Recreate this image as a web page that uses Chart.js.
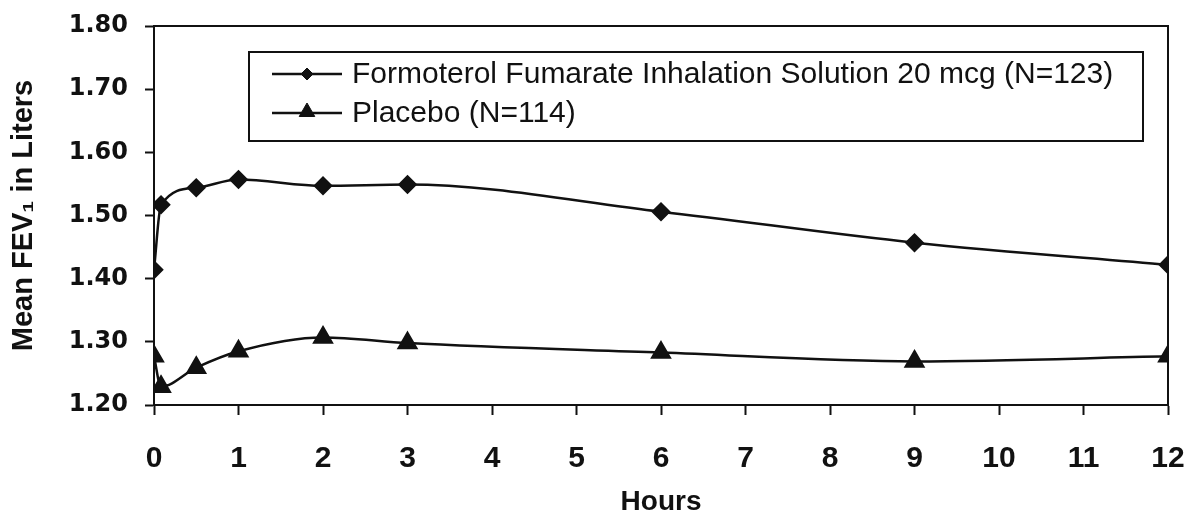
<!DOCTYPE html>
<html>
<head>
<meta charset="utf-8">
<title>Mean FEV1 over 12 hours</title>
<script src="https://cdn.jsdelivr.net/npm/chart.js@4/dist/chart.umd.min.js"></script>
<style>
    html, body { margin: 0; padding: 0; background: #fff; }
    #wrap { width: 1185px; height: 514px; position: relative; }
</style>
</head>
<body>
<div id="wrap"><canvas id="fevChart" width="1185" height="514"></canvas></div>
<script>
// Dados
const hours = [0, 0.083, 0.5, 1, 2, 3, 6, 9, 12];
const formoterol = [1.414, 1.517, 1.544, 1.557, 1.547, 1.549, 1.506, 1.457, 1.422];
const placebo = [1.277, 1.229, 1.259, 1.285, 1.307, 1.298, 1.283, 1.269, 1.277];
const seriesLabels = ['Formoterol Fumarate Inhalation Solution 20 mcg (N=123)', 'Placebo (N=114)'];
const yTicks = [1.20, 1.30, 1.40, 1.50, 1.60, 1.70, 1.80];
const xTicks = [0, 1, 2, 3, 4, 5, 6, 7, 8, 9, 10, 11, 12];

document.addEventListener('DOMContentLoaded', function() {
    const canvas = document.getElementById('fevChart');
    const ink = '#111';

    function toPoints(values) {
        return hours.map((h, i) => ({ x: h, y: values[i] }));
    }

    // Moldura superior e direita + legenda dentro da área do gráfico
    const framePlugin = {
        id: 'frameAndLegend',
        afterDraw(chart) {
            const ctx = chart.ctx;
            const area = chart.chartArea;
            ctx.save();
            ctx.strokeStyle = ink;
            ctx.lineWidth = 2;
            ctx.beginPath();
            ctx.moveTo(area.left, area.top);
            ctx.lineTo(area.right, area.top);
            ctx.lineTo(area.right, area.bottom);
            ctx.stroke();

            // caixa da legenda
            const box = { left: 249, top: 52, right: 1143, bottom: 141 };
            ctx.fillStyle = '#fff';
            ctx.fillRect(box.left, box.top, box.right - box.left, box.bottom - box.top);
            ctx.strokeRect(box.left, box.top, box.right - box.left, box.bottom - box.top);

            const rows = [74, 113];
            chart.data.datasets.forEach((ds, i) => {
                const y = rows[i];
                ctx.strokeStyle = ink;
                ctx.fillStyle = ink;
                ctx.lineWidth = 2.5;
                ctx.beginPath();
                ctx.moveTo(272, y);
                ctx.lineTo(342, y);
                ctx.stroke();
                ctx.lineWidth = 1;
                Chart.helpers.drawPoint(ctx, {
                    pointStyle: ds.pointStyle,
                    radius: i === 0 ? 6 : 9,
                    borderWidth: 1
                }, 307, i === 0 ? y : y - 1);
                ctx.font = '30px "Liberation Sans", Arial, sans-serif';
                ctx.textAlign = 'left';
                ctx.textBaseline = 'middle';
                ctx.fillText(ds.label, 352, y + 1);
            });
            ctx.restore();
        }
    };

    new Chart(canvas.getContext('2d'), {
        type: 'line',
        data: {
            datasets: [{
                label: seriesLabels[0],
                data: toPoints(formoterol),
                borderColor: ink,
                backgroundColor: ink,
                borderWidth: 2.5,
                pointStyle: 'rectRot',
                pointRadius: 8,
                pointHoverRadius: 8,
                cubicInterpolationMode: 'monotone'
            }, {
                label: seriesLabels[1],
                data: toPoints(placebo),
                borderColor: ink,
                backgroundColor: ink,
                borderWidth: 2.5,
                pointStyle: 'triangle',
                pointRadius: 10,
                pointHoverRadius: 10,
                cubicInterpolationMode: 'monotone'
            }]
        },
        options: {
            responsive: false,
            animation: false,
            devicePixelRatio: 1,
            layout: { padding: { top: 26, right: 17, left: 0, bottom: 0 } },
            plugins: {
                legend: { display: false },
                tooltip: { enabled: false }
            },
            scales: {
                x: {
                    type: 'linear',
                    min: 0,
                    max: 12,
                    afterBuildTicks(scale) {
                        scale.ticks = xTicks.map(v => ({ value: v }));
                    },
                    afterFit(scale) {
                        scale.height = 109;
                        scale.paddingRight = 0;
                    },
                    grid: { drawOnChartArea: false, tickLength: 10, tickWidth: 2, tickColor: ink },
                    border: { color: ink, width: 2 },
                    ticks: {
                        color: ink,
                        padding: 26,
                        maxRotation: 0,
                        font: { family: '"Liberation Sans", Arial, sans-serif', size: 30, weight: 'bold' }
                    },
                    title: {
                        display: true,
                        text: 'Hours',
                        color: ink,
                        padding: { top: 0, bottom: -5 },
                        font: { family: '"Liberation Sans", Arial, sans-serif', size: 28, weight: 'bold' }
                    }
                },
                y: {
                    min: 1.2,
                    max: 1.8,
                    afterBuildTicks(scale) {
                        scale.ticks = yTicks.map(v => ({ value: v }));
                    },
                    afterFit(scale) {
                        scale.width = 154;
                        scale.paddingTop = 0;
                        scale.paddingBottom = 0;
                    },
                    grid: { drawOnChartArea: false, tickLength: 9, tickWidth: 2, tickColor: ink },
                    border: { color: ink, width: 2 },
                    ticks: {
                        color: ink,
                        padding: 17,
                        callback: v => v.toFixed(2),
                        font: { family: '"DejaVu Sans", sans-serif', size: 24, weight: 'bold' }
                    },
                    title: {
                        display: true,
                        text: 'Mean FEV\u2081 in Liters',
                        color: ink,
                        padding: { top: 7, bottom: 0 },
                        font: { family: '"Liberation Sans", Arial, sans-serif', size: 29, weight: 'bold' }
                    }
                }
            }
        },
        plugins: [framePlugin]
    });
});
</script>
</body>
</html>
